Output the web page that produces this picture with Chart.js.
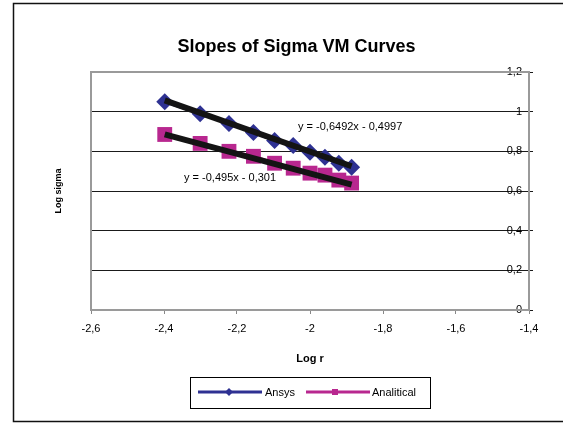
<!DOCTYPE html>
<html>
<head>
<meta charset="utf-8">
<script src="https://cdn.jsdelivr.net/npm/chart.js@4.4.1/dist/chart.umd.min.js"></script>
<style>
  html, body { margin: 0; padding: 0; background: #fff; }
  #box { width: 563px; height: 425px; }
</style>
</head>
<body>
<div id="box"><canvas id="grafico"></canvas></div>
<script>
// data
const logR = [-2.398, -2.301, -2.222, -2.155, -2.097, -2.046, -2.0, -1.959, -1.921, -1.886];
const ansys = [1.05, 0.99, 0.94, 0.895, 0.855, 0.83, 0.795, 0.77, 0.74, 0.72];
const analitical = [0.885, 0.84, 0.80, 0.775, 0.74, 0.715, 0.69, 0.68, 0.655, 0.64];
const seriesNames = ['Ansys', 'Analitical'];
const slopes = [-0.6492, -0.495];
const intercepts = [-0.4997, -0.301];
const xTickLabels = ['-2,6', '-2,4', '-2,2', '-2', '-1,8', '-1,6', '-1,4'];
const yTickLabels = ['0', '0,2', '0,4', '0,6', '0,8', '1', '1,2'];

const FONT = "'Liberation Sans', Arial, sans-serif";
const BLUE = '#2e3192';
const MAGENTA = '#b8278f';

const pts = ys => logR.map((x, i) => ({ x: x, y: ys[i] }));
const trend = k => [logR[0], logR[logR.length - 1]].map(x => ({ x: x, y: slopes[k] * x + intercepts[k] }));
const comma = v => String(v).replace('.', ',');
const equation = k => 'y = ' + comma(slopes[k]) + 'x - ' + comma(Math.abs(intercepts[k]));

document.addEventListener('DOMContentLoaded', () => {
  const ctx = document.getElementById('grafico').getContext('2d');

  // moldura externa + caixa da area de plotagem
  const frame = {
    id: 'frame',
    beforeDraw(chart) {
      const c = chart.ctx;
      c.save();
      c.fillStyle = '#fff';
      c.fillRect(0, 0, chart.width, chart.height);
      c.strokeStyle = '#111';
      c.lineWidth = 1.5;
      c.strokeRect(13.5, 3.5, 620, 418);
      c.restore();
    },
    beforeDatasetsDraw(chart) {
      const a = chart.chartArea;
      const c = chart.ctx;
      c.save();
      c.strokeStyle = '#9a9a9a';
      c.lineWidth = 2;
      c.strokeRect(a.left, a.top, a.right - a.left, a.bottom - a.top);
      c.restore();
    }
  };

  // equacoes das linhas de tendencia + legenda com moldura
  const extras = {
    id: 'extras',
    afterDatasetsDraw(chart) {
      const c = chart.ctx;
      const sx = chart.scales.x, sy = chart.scales.y;
      c.save();
      c.fillStyle = '#000';
      c.font = '11px ' + FONT;
      c.textAlign = 'center';
      c.textBaseline = 'middle';
      c.fillText(equation(0), sx.getPixelForValue(-1.89), sy.getPixelForValue(0.923));
      c.fillText(equation(1), sx.getPixelForValue(-2.219), sy.getPixelForValue(0.666));

      // legenda
      c.strokeStyle = '#000';
      c.lineWidth = 1;
      c.strokeRect(190.5, 377.5, 240, 31);
      const y = 392;
      c.lineWidth = 3;
      c.strokeStyle = BLUE;
      c.beginPath(); c.moveTo(198, y); c.lineTo(262, y); c.stroke();
      c.fillStyle = BLUE;
      c.beginPath();
      c.moveTo(229 - 4, y); c.lineTo(229, y - 4); c.lineTo(229 + 4, y); c.lineTo(229, y + 4);
      c.closePath(); c.fill();
      c.strokeStyle = MAGENTA;
      c.beginPath(); c.moveTo(306, y); c.lineTo(370, y); c.stroke();
      c.fillStyle = MAGENTA;
      c.fillRect(335 - 3, y - 3, 6, 6);
      c.fillStyle = '#000';
      c.font = '11px ' + FONT;
      c.textAlign = 'left';
      c.fillText(seriesNames[0], 265, y + 1);
      c.fillText(seriesNames[1], 372, y + 1);
      c.restore();
    }
  };

  new Chart(ctx, {
    type: 'scatter',
    data: {
      datasets: [
        { label: 'trend ' + seriesNames[0], data: trend(0), showLine: true, borderColor: '#141414', borderWidth: 6, pointRadius: 0, order: 0 },
        { label: 'trend ' + seriesNames[1], data: trend(1), showLine: true, borderColor: '#141414', borderWidth: 6, pointRadius: 0, order: 0 },
        {
          label: seriesNames[0], data: pts(ansys), showLine: true, order: 1,
          borderColor: BLUE, backgroundColor: BLUE, borderWidth: 3,
          pointStyle: 'rectRot', pointRadius: 8.5, pointBorderWidth: 0
        },
        {
          label: seriesNames[1], data: pts(analitical), showLine: true, order: 1,
          borderColor: MAGENTA, backgroundColor: MAGENTA, borderWidth: 3,
          pointStyle: 'rect', pointRadius: 10.5, pointBorderWidth: 0
        }
      ]
    },
    options: {
      responsive: true,
      maintainAspectRatio: false,
      animation: false,
      events: [],
      layout: { padding: { left: 30, right: 0, top: 0, bottom: 0 } },
      plugins: {
        legend: { display: false },
        tooltip: { enabled: false },
        title: {
          display: true,
          text: 'Slopes of Sigma VM Curves',
          color: '#000',
          font: { family: FONT, size: 18, weight: 'bold' },
          padding: { top: 36, bottom: 14.4 }
        }
      },
      scales: {
        x: {
          type: 'linear',
          min: -2.6,
          max: -1.4,
          ticks: {
            stepSize: 0.2,
            color: '#000',
            font: { family: FONT, size: 11 },
            padding: 8,
            maxRotation: 0,
            callback: (v, i) => xTickLabels[i]
          },
          grid: { drawOnChartArea: false, drawTicks: true, tickLength: 4, color: '#888' },
          border: { color: '#9a9a9a', width: 2 },
          title: {
            display: true,
            text: 'Log r',
            color: '#000',
            font: { family: FONT, size: 11, weight: 'bold' },
            padding: { top: 4, bottom: 59 }
          },
          afterFit: s => { s.height = 115; }
        },
        y: {
          position: 'right',
          min: 0,
          max: 1.2,
          ticks: {
            stepSize: 0.2,
            mirror: true,
            padding: -7,
            color: '#000',
            font: { family: FONT, size: 11 },
            callback: (v, i) => yTickLabels[i]
          },
          grid: { color: '#1a1a1a', tickLength: 4 },
          border: { color: '#9a9a9a', width: 2 },
          afterFit: s => { s.width = 34; }
        },
        yLeft: {
          position: 'left',
          ticks: { display: false },
          grid: { display: false },
          border: { display: false },
          title: {
            display: true,
            text: 'Log sigma',
            color: '#000',
            font: { family: FONT, size: 9, weight: 'bold' },
            padding: { top: 23, bottom: 0 }
          },
          afterFit: s => { s.width = 61; }
        }
      }
    },
    plugins: [frame, extras]
  });
});
</script>
</body>
</html>
